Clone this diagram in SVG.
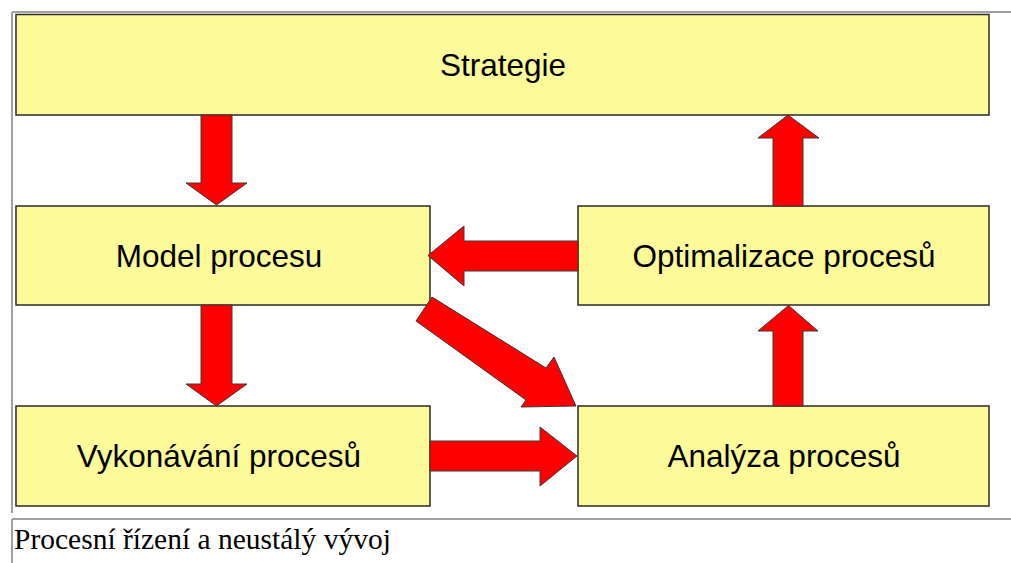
<svg xmlns="http://www.w3.org/2000/svg" width="1011" height="563" viewBox="0 0 1011 563">
<style>
.box{fill:#FCFA99;stroke:#2a2a2a;stroke-width:1.5}
.lbl{font-family:"Liberation Sans",Arial,sans-serif;font-size:31.5px;fill:#000;text-anchor:middle}
.arr{fill:#FF0000;stroke:#3a3a3a;stroke-width:1;stroke-linejoin:miter}
.frame{stroke:#A0A0A0;stroke-width:2;fill:none}
.cap{font-family:"Liberation Serif","Times New Roman",serif;font-size:29.5px;fill:#000}
</style>
<rect width="1011" height="563" fill="#fff"/>
<g id="frame">
<path class="frame" d="M12,12 H1011 M12,12 V513"/>
<path class="frame" d="M12,519 H1011 M12,519 V563"/>
</g>
<g id="node-strategie"><rect class="box" x="16" y="14.5" width="973" height="100.5"/><text class="lbl" x="503" y="76">Strategie</text></g>
<g id="node-model"><rect class="box" x="16" y="206" width="414" height="99"/><text class="lbl" x="219" y="267">Model procesu</text></g>
<g id="node-optimalizace"><rect class="box" x="578" y="206" width="411" height="99"/><text class="lbl" x="784" y="267">Optimalizace procesů</text></g>
<g id="node-vykonavani"><rect class="box" x="16" y="406" width="414" height="100"/><text class="lbl" x="219" y="467">Vykonávání procesů</text></g>
<g id="node-analyza"><rect class="box" x="578" y="406" width="411" height="100"/><text class="lbl" x="784" y="467">Analýza procesů</text></g>
<g id="connectors">
<polygon class="arr" points="201,115 232,115 232,183 247,183 216.5,205 186,183 201,183"/>
<polygon class="arr" points="201,305 232,305 232,384 247,384 216.5,406 186,384 201,384"/>
<polygon class="arr" points="773,206 803,206 803,138 819,138 788,115 758,138 773,138"/>
<polygon class="arr" points="773,406 803,406 803,331 818,331 788.5,305.5 758,331 773,331"/>
<polygon class="arr" points="578,241 464,241 464,226 428,255.5 464,286 464,271 578,271"/>
<polygon class="arr" points="430,441 540,441 540,427 577,456 540,486 540,471 430,471"/>
<polygon class="arr" points="432,297 546,368 554,357 576,406 521,407 526,400 416,321"/>
</g>
<text class="cap" x="14" y="549">Procesní řízení a neustálý vývoj</text>
</svg>
